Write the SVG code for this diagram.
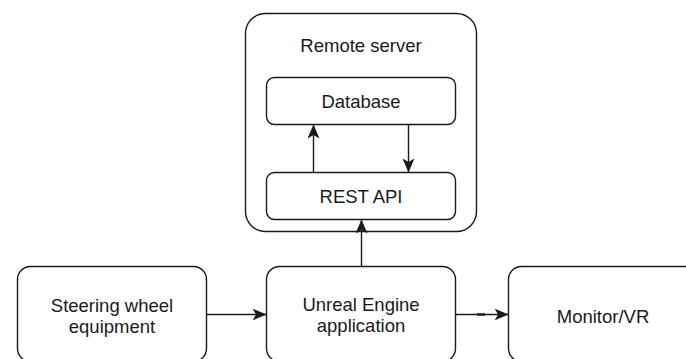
<svg xmlns="http://www.w3.org/2000/svg" width="686" height="359" viewBox="0 0 686 359">
<defs>
<style>
.box{fill:#fff;stroke:#1a1a1a;stroke-width:1.4}
.lbl{font-family:"Liberation Sans",Arial,sans-serif;font-size:18.5px;fill:#1a1a1a;text-anchor:middle}
.edge{fill:none;stroke:#1a1a1a;stroke-width:1.4}
</style>
<marker id="arr" markerUnits="userSpaceOnUse" markerWidth="16" markerHeight="14" refX="14" refY="6" orient="auto">
<path d="M0,0 L14,6 L0,12 L3.5,6 Z" fill="#1a1a1a"/>
</marker>
</defs>
<rect width="686" height="359" fill="#fff"/>
<g id="remote-server">
<rect class="box" x="245.5" y="13.5" width="231" height="218" rx="20" ry="20"/>
<text class="lbl" x="361" y="52">Remote server</text>
</g>
<g id="database">
<rect class="box" x="266.5" y="77.5" width="189" height="47" rx="8" ry="8"/>
<text class="lbl" x="361" y="108">Database</text>
</g>
<g id="rest-api">
<rect class="box" x="266.5" y="172.5" width="189" height="47" rx="8" ry="8"/>
<text class="lbl" x="361" y="203">REST API</text>
</g>
<g id="steering">
<rect class="box" x="17.5" y="266.5" width="189" height="95" rx="13" ry="13"/>
<text class="lbl" x="112" y="312">Steering wheel</text>
<text class="lbl" x="112" y="333">equipment</text>
</g>
<g id="unreal">
<rect class="box" x="266.5" y="266.5" width="189" height="95" rx="13" ry="13"/>
<text class="lbl" x="361" y="311">Unreal Engine</text>
<text class="lbl" x="361" y="332">application</text>
</g>
<g id="monitor">
<rect class="box" x="508.5" y="266.5" width="189" height="95" rx="13" ry="13"/>
<text class="lbl" x="603" y="323">Monitor/VR</text>
</g>
<g id="connectors">
<line class="edge" x1="313.5" y1="172.5" x2="313.5" y2="124.5" marker-end="url(#arr)"/>
<line class="edge" x1="408.5" y1="124.5" x2="408.5" y2="172.5" marker-end="url(#arr)"/>
<line class="edge" x1="361.5" y1="266.5" x2="361.5" y2="219.5" marker-end="url(#arr)"/>
<line class="edge" x1="206.5" y1="314.5" x2="266.5" y2="314.5" marker-end="url(#arr)"/>
<line class="edge" x1="455.5" y1="314.5" x2="508.5" y2="314.5" marker-end="url(#arr)"/>
<line x1="477" y1="314.5" x2="485" y2="314.5" stroke="#1a1a1a" stroke-width="2.4"/>
</g>
</svg>
